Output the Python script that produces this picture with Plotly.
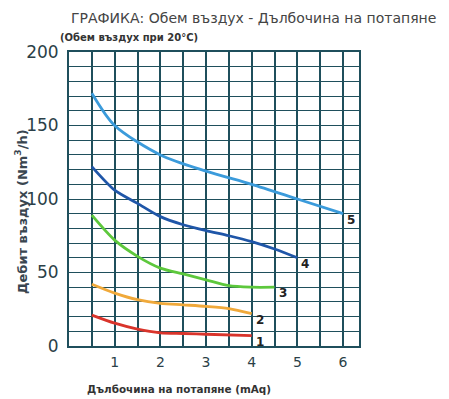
import plotly.graph_objects as go

# Data
depth_1 = [0.5, 1, 1.5, 2, 2.5, 3, 4]
flow_1 = [21, 15.5, 11.5, 9, 8.5, 8, 7]
depth_2 = [0.5, 1, 1.5, 2, 2.5, 3, 3.5, 4]
flow_2 = [42, 36, 31.5, 29, 28, 27, 25.5, 22]
depth_3 = [0.5, 1, 1.5, 2, 2.5, 3, 3.5, 4, 4.5]
flow_3 = [89, 72, 61, 53, 49, 45, 41, 40, 40]
depth_4 = [0.5, 1, 1.5, 2, 2.5, 3, 3.5, 4, 4.5, 5]
flow_4 = [122, 106, 97, 88, 82.5, 78.5, 75, 71, 66, 60]
depth_5 = [0.5, 1, 2, 3, 4, 5, 6]
flow_5 = [172, 150, 130, 119, 110, 100, 90]

series_names = ["1", "2", "3", "4", "5"]
series_x = [depth_1, depth_2, depth_3, depth_4, depth_5]
series_y = [flow_1, flow_2, flow_3, flow_4, flow_5]
colors = ["#d9342b", "#f0a93a", "#5dc83c", "#1f56a8", "#3b9bdb"]

x_ticks = [1, 2, 3, 4, 5, 6]
y_ticks = [0, 50, 100, 150, 200]

title_text = "ГРАФИКА: Обем въздух - Дълбочина на потапяне"
subtitle_text = "(Обем въздух при 20°C)"
x_title = "Дълбочина на потапяне (mAq)"
y_title = "Дебит въздух (Nm<sup>3</sup>/h)"

FONT = "DejaVu Sans, sans-serif"
GRID = "#1f4f5c"

fig = go.Figure()
for name, xs, ys, c in zip(series_names, series_x, series_y, colors):
    fig.add_trace(go.Scatter(x=xs, y=ys, mode="lines", name=name,
                             line=dict(color=c, width=2.8, shape="spline", smoothing=0.8),
                             showlegend=False, hoverinfo="x+y"))
    fig.add_annotation(x=xs[-1], y=ys[-1], text="<b>" + name + "</b>", showarrow=False,
                       xanchor="left", yanchor="middle", xshift=2, yshift=-6,
                       font=dict(family=FONT, size=12, color="#222222"))

fig.update_xaxes(range=[0, 6.35], tickvals=x_ticks, ticktext=[str(v) for v in x_ticks],
                 showgrid=False, zeroline=False,
                 showline=True, linecolor=GRID, linewidth=2, mirror=True,
                 minor=dict(dtick=0.5, tick0=0, showgrid=True, gridcolor=GRID, gridwidth=1.6),
                 ticks="", ticklabelstandoff=2,
                 tickfont=dict(family=FONT, size=14, color="#2b3f48"))
fig.update_yaxes(range=[0, 200], tickvals=y_ticks, ticktext=[str(v) for v in y_ticks],
                 showgrid=False, zeroline=False,
                 showline=True, linecolor=GRID, linewidth=2, mirror=True,
                 minor=dict(dtick=10, tick0=0, showgrid=True, gridcolor=GRID, gridwidth=1.4),
                 ticks="", ticklabelstandoff=5,
                 tickfont=dict(family=FONT, size=17, color="#2b3f48"))

fig.add_annotation(xref="paper", yref="paper", x=0.0, y=1.117, text=title_text,
                   showarrow=False, xanchor="left", yanchor="middle",
                   font=dict(family=FONT, size=14, color="#444444"))
fig.add_annotation(xref="paper", yref="paper", x=-0.038, y=1.051, text="<b>" + subtitle_text + "</b>",
                   showarrow=False, xanchor="left", yanchor="middle",
                   font=dict(family=FONT, size=10, color="#333333"))
fig.add_annotation(xref="paper", yref="paper", x=-0.165, y=0.456, text="<b>" + y_title + "</b>",
                   showarrow=False, xanchor="center", yanchor="middle", textangle=-90,
                   font=dict(family=FONT, size=13, color="#3a4650"))
fig.add_annotation(xref="paper", yref="paper", x=0.378, y=-0.146, text="<b>" + x_title + "</b>",
                   showarrow=False, xanchor="center", yanchor="middle",
                   font=dict(family=FONT, size=10.4, color="#333333"))

# The page body adds an 8px offset, so the figure is sized to fill the window from there.
fig.update_layout(width=441, height=391, margin=dict(l=61, r=90, t=44, b=53),
                  paper_bgcolor="white", plot_bgcolor="white")

fig.write_html("out.html")
